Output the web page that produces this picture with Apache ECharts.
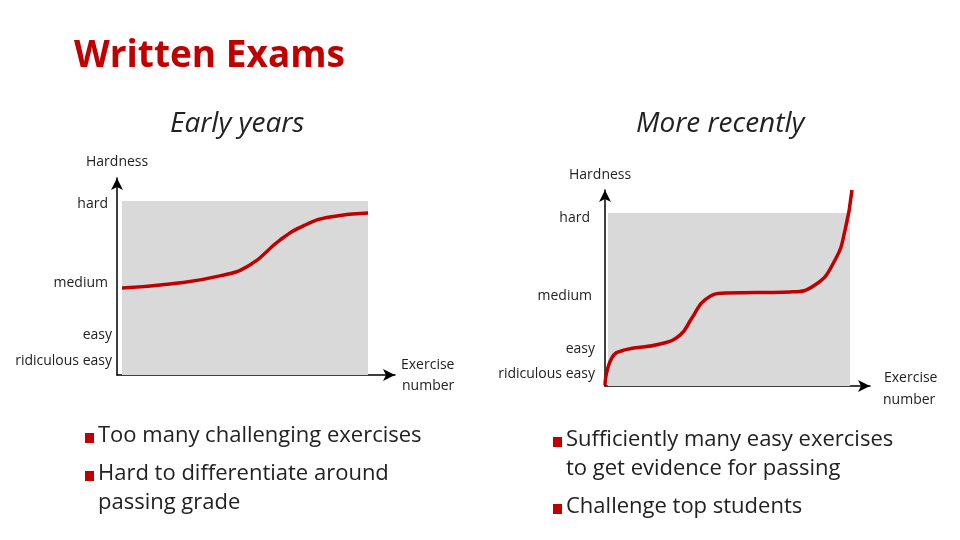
<!DOCTYPE html>
<html><head><meta charset="utf-8">
<script src="https://cdn.jsdelivr.net/npm/echarts@6/dist/echarts.min.js"></script>
<style>html,body{margin:0;padding:0;background:#fff}#box{width:960px;height:540px}</style>
</head><body><div id="box"></div>
<script>
// data (x: exercise number 0-100, y: hardness 0-100)
var earlyCurve = [[1.8,44.2],[19,46.2],[37,50.3],[47.8,55.8],[58.6,68.5],[67.6,76.1],[76.6,80.2],[90.3,82.2]];
var recentCurve = [[0,0.5],[2.6,14.3],[7.5,18.4],[20.8,21.4],[28.3,26],[32.8,34.7],[37.7,43.9],[45.3,47.4],[69.8,48],[79.2,51.5],[86.8,64.3],[90.6,79.6],[93.2,100]];
var levelLabels = ['hard','medium','easy','ridiculous easy'];
var leftBullets = ['Too many challenging exercises','Hard to differentiate around','passing grade'];
var rightBullets = ['Sufficiently many easy exercises','to get evidence for passing','Challenge top students'];

var font = '"Open Sans", "Noto Sans", sans-serif';
var chart = echarts.init(document.getElementById('box'));

function axisPair(idx) {
  var line = {show:true, symbol:['none','arrow'], symbolSize:[9,12], lineStyle:{color:'#000', width:1.5}};
  return {
    x: {type:'value', gridIndex:idx, min:0, max:100, axisLine:line, axisTick:{show:false}, axisLabel:{show:false}, splitLine:{show:false}},
    y: {type:'value', gridIndex:idx, min:0, max:100, axisLine:line, axisTick:{show:false}, axisLabel:{show:false}, splitLine:{show:false}}
  };
}
var a0 = axisPair(0), a1 = axisPair(1);

function txt(x, y, s, size) {
  return {type:'text', left:x, top:y, style:{text:s, font:size+'px '+font, fill:'#222'}};
}
function rtxt(r, y, s) {
  return {type:'text', right:r, top:y, style:{text:s, font:'14px '+font, fill:'#222'}};
}
var g = [
  {type:'text', left:74, top:38, style:{text:'Written Exams', font:'bold 37px '+font, fill:'#c00000'}},
  {type:'text', left:170, top:110, style:{text:'Early years', font:'italic 28px '+font, fill:'#222'}},
  {type:'text', left:636, top:110, style:{text:'More recently', font:'italic 28px '+font, fill:'#222'}},
  txt(86,155,'Hardness',14), txt(569,168,'Hardness',14),
  rtxt(852,197,levelLabels[0]), rtxt(852,276,levelLabels[1]), rtxt(848,328,levelLabels[2]), rtxt(848,354,levelLabels[3]),
  rtxt(370,211,levelLabels[0]), rtxt(368,289,levelLabels[1]), rtxt(365,342,levelLabels[2]), rtxt(365,367,levelLabels[3]),
  txt(401,358,'Exercise',14), txt(402,379,'number',14),
  txt(884,371,'Exercise',14), txt(883,393,'number',14)
];
function bullets(x, y, lines, bulletRows) {
  var pos = y;
  lines.forEach(function (s, i) {
    if (bulletRows.indexOf(i) >= 0) {
      g.push({type:'rect', left:x+5, top:pos+8, shape:{width:9, height:10}, style:{fill:'#c00000'}});
    }
    g.push(txt(x+18, pos, s, 22));
    pos += bulletRows.indexOf(i+1) >= 0 ? 38 : 29;
  });
}
bullets(80, 425, leftBullets, [0,1]);
bullets(548, 429, rightBullets, [0,2]);

function series(idx, data, area) {
  return {
    type:'line', xAxisIndex:idx, yAxisIndex:idx, data:data, smooth:0.5, symbol:'none',
    lineStyle:{color:'#c00000', width:3.5}, z:3,
    markArea:{silent:true, itemStyle:{color:'#d9d9d9'}, data:[[{coord:[area[0],area[2]]},{coord:[area[1],area[3]]}]]}
  };
}
chart.setOption({
  animation:false,
  grid:[{left:117, top:178, width:278, height:197}, {left:605, top:190, width:265, height:196}],
  xAxis:[a0.x, a1.x], yAxis:[a0.y, a1.y],
  series:[series(0, earlyCurve, [1.8,90.3,0,88.3]), series(1, recentCurve, [1.1,92.5,0,88.3])],
  graphic:g
});
</script></body></html>
